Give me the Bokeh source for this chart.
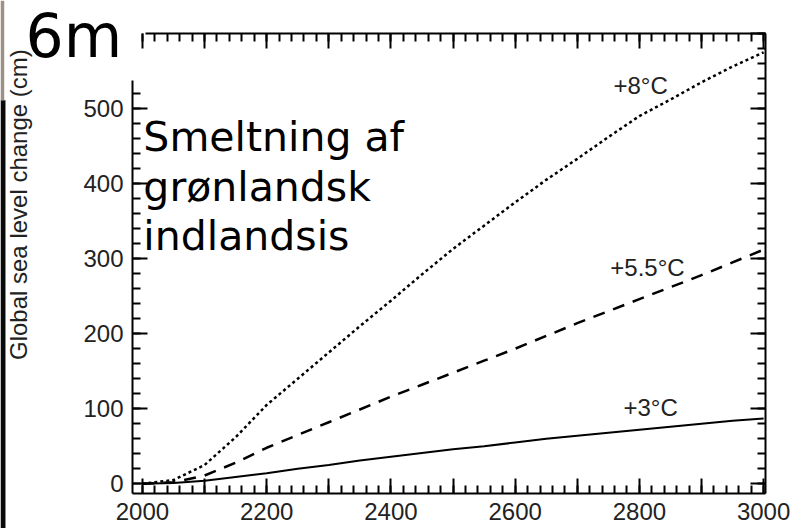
import math
from bokeh.plotting import figure
from bokeh.models import (ColumnDataSource, FixedTicker, LinearAxis, Label,
                          BoxAnnotation, Range1d, CustomLabelingPolicy)
from bokeh.embed import file_html
from bokeh.resources import INLINE

# ---- data ----
years = [2000, 2050, 2100, 2150, 2200, 2250, 2300, 2350, 2400, 2450, 2500,
         2550, 2600, 2650, 2700, 2750, 2800, 2850, 2900, 2950, 3000]
rise_3c = [0, 1, 4, 9, 14, 20, 25, 31, 36, 41, 46, 50, 55, 60, 64, 68, 72, 76, 80, 84, 87]
rise_55c = [0, 2, 11, 28, 48, 65, 82, 99, 116, 132, 148, 164, 180, 197, 214, 230, 246,
            262, 278, 295, 312]
rise_8c = [0, 5, 25, 62, 105, 140, 175, 210, 244, 279, 313, 344, 375, 405, 433, 462, 490,
           512, 535, 556, 575]
series_labels = ["+3°C", "+5.5°C", "+8°C"]

x_major = list(range(2000, 3001, 100))
x_minor = list(range(2000, 3001, 20))
y_major_left = list(range(0, 501, 100))
y_minor_left = list(range(0, 521, 20))
y_major = list(range(0, 601, 100))
y_minor = list(range(0, 601, 20))

src = ColumnDataSource(dict(year=years, r3=rise_3c, r55=rise_55c, r8=rise_8c))

# axis box of the chart (data units)
X0, X1 = 1984, 3003
Y0, Y1 = -13, 600

p = figure(width=794, height=528, output_backend="svg", toolbar_location=None,
           x_range=Range1d(1771.5, 3049.7), y_range=Range1d(-59.6, 644.0),
           min_border_left=0, min_border_right=0, min_border_top=0,
           min_border_bottom=0)
p.xgrid.visible = False
p.ygrid.visible = False
p.outline_line_color = None
p.background_fill_color = "white"
p.border_fill_color = "white"

tick_font = "Liberation Sans"
txt_col = "#222222"

hide_all = CustomLabelingPolicy(code="""
    for (const i of Array.from(indices)) { indices.unset(i) }
    return indices
""")
every_other = CustomLabelingPolicy(code="""
    for (const i of Array.from(indices)) { if (i % 2 == 1) indices.unset(i) }
    return indices
""")

def style_axis(ax, ticks, minor, loc, bounds, policy=None):
    ax.ticker = FixedTicker(ticks=ticks, minor_ticks=minor)
    ax.fixed_location = loc
    ax.bounds = bounds
    ax.axis_line_width = 2
    ax.axis_line_color = "black"
    ax.major_tick_line_width = 2
    ax.minor_tick_line_width = 2
    ax.major_tick_in = 15
    ax.major_tick_out = 0
    ax.minor_tick_in = 8
    ax.minor_tick_out = 0
    ax.major_label_text_font = tick_font
    ax.major_label_text_font_size = "24px"
    ax.major_label_text_color = txt_col
    ax.major_label_standoff = 9
    if policy is not None:
        ax.major_label_policy = policy

style_axis(p.xaxis[0], x_major, x_minor, Y0, (X0, X1), every_other)
style_axis(p.yaxis[0], y_major_left, y_minor_left, X0, (Y0, 537))

top_ax = LinearAxis()
style_axis(top_ax, x_major, x_minor, Y1, (2005, X1), hide_all)
p.add_layout(top_ax, "above")
right_ax = LinearAxis()
style_axis(right_ax, y_major, y_minor, X1, (Y0, Y1), hide_all)
p.add_layout(right_ax, "right")

p.line("year", "r3", source=src, line_color="black", line_width=2)
p.line("year", "r55", source=src, line_color="black", line_width=2.5, line_dash="12 9")
p.line("year", "r8", source=src, line_color="black", line_width=2.5, line_dash="3 3")

# series labels
for txt, (lx, ly) in zip(series_labels, [(2818, 101), (2813, 288), (2802, 531)]):
    p.add_layout(Label(x=lx, y=ly, text=txt, text_align="center", text_baseline="middle",
                       text_font=tick_font, text_font_size="24px", text_color=txt_col))

# y axis title
p.add_layout(Label(x=1800.5, y=372, text="Global sea level change (cm)", angle=math.pi / 2,
                   text_align="center", text_baseline="middle", text_font=tick_font,
                   text_font_size="24px", text_color=txt_col))

# big annotations
p.add_layout(Label(x=1811.7, y=597, text="6m", text_align="left",
                   text_baseline="alphabetic", text_font="DejaVu Sans",
                   text_font_size="60px", text_color="black"))
for line_txt, ly in [("Smeltning af", 462), ("grønlandsk", 395), ("indlandsis", 330)]:
    p.add_layout(Label(x=2001.5, y=ly, text=line_txt, text_align="left",
                       text_baseline="alphabetic", text_font="DejaVu Sans",
                       text_font_size="41px", text_color="black"))

# dark strip at the far left edge of the picture
p.add_layout(BoxAnnotation(left=1771.5, right=1779.5, bottom=-60, top=511,
                           fill_color="#0a0a0a", fill_alpha=1, line_color=None))
p.add_layout(BoxAnnotation(left=1771.5, right=1777.5, bottom=511, top=644,
                           fill_color="#9c9184", fill_alpha=1, line_color=None))

open("out.html", "w").write(file_html(p, INLINE))
